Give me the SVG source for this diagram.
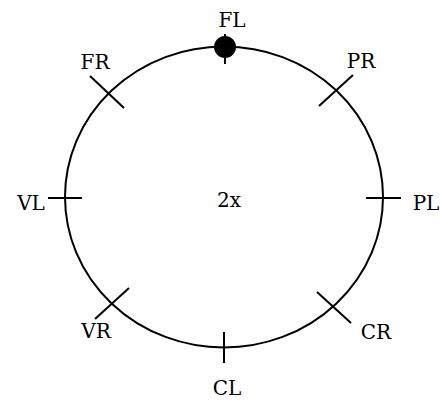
<svg xmlns="http://www.w3.org/2000/svg" width="440" height="404" viewBox="0 0 440 404">
<style>
.ln{stroke:#000;stroke-width:2;fill:none}
.lb{font-family:"DejaVu Serif",serif;font-size:20px;fill:#000;text-anchor:middle}
</style>
<rect width="440" height="404" fill="#fff"/>
<g id="ring"><ellipse class="ln" cx="224" cy="197" rx="159" ry="150.5"/></g>
<g id="connectors">
<line class="ln" x1="225" y1="34" x2="225" y2="64"/>
<line class="ln" x1="353" y1="75" x2="319" y2="106"/>
<line class="ln" x1="366" y1="198" x2="401" y2="198"/>
<line class="ln" x1="317" y1="292" x2="351" y2="323"/>
<line class="ln" x1="224" y1="332" x2="224" y2="363"/>
<line class="ln" x1="95" y1="319" x2="129" y2="288"/>
<line class="ln" x1="48" y1="198" x2="82" y2="198"/>
<line class="ln" x1="90" y1="76" x2="124" y2="108"/>
</g>
<g id="FL"><circle cx="225" cy="47" r="11" fill="#000"/><text class="lb" x="232" y="27">FL</text></g>
<g id="PR"><text class="lb" x="361" y="68">PR</text></g>
<g id="PL"><text class="lb" x="426" y="210">PL</text></g>
<g id="CR"><text class="lb" x="376" y="339">CR</text></g>
<g id="CL"><text class="lb" x="227" y="395">CL</text></g>
<g id="VR"><text class="lb" x="96" y="338">VR</text></g>
<g id="VL"><text class="lb" x="31" y="210">VL</text></g>
<g id="FR"><text class="lb" x="95" y="69">FR</text></g>
<g id="center"><text class="lb" x="229" y="207">2x</text></g>
</svg>
